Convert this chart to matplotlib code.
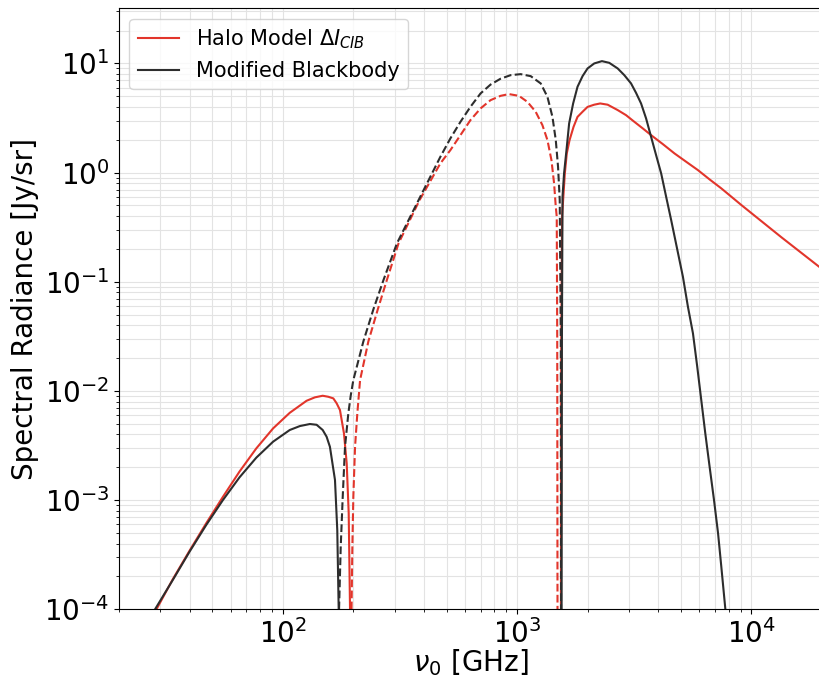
import matplotlib
matplotlib.use("Agg")
import matplotlib.pyplot as plt

# ---- data ----
# Halo model, low-frequency positive part
halo_pos1_nu = [28.9, 33.9, 40.0, 47.1, 55.5, 65.4, 77.1, 90.9, 107.1, 126.3, 137.1, 148, 156.3, 164.3, 169.8, 175.4, 182.4, 187.4, 191.1, 193.6]
halo_pos1_I = [1e-4, 1.88e-4, 3.44e-4, 6.13e-4, 1.07e-3, 1.83e-3, 2.98e-3, 4.54e-3, 6.31e-3, 8.13e-3, 8.74e-3, 9.04e-3, 8.85e-3, 8.55e-3, 7.70e-3, 6.68e-3, 4.09e-3, 2.17e-3, 7.57e-4, 1e-4]
# Halo model, negative part (|value|)
halo_neg_nu = [196.5, 198.1, 200.0, 203.4, 208.0, 213.7, 231.9, 254.4, 278.0, 311.8, 383.4, 470.3, 519, 573, 632, 698, 770, 850, 922, 1018, 1106, 1200, 1282, 1347, 1401, 1438, 1462, 1476, 1483, 1487]
halo_neg_I = [1e-4, 3.74e-4, 1.074e-3, 3.08e-3, 6.23e-3, 1.259e-2, 2.85e-2, 5.6e-2, 0.1037, 0.2247, 0.560, 1.214, 1.607, 2.205, 3.026, 3.87, 4.61, 5.05, 5.24, 5.05, 4.45, 3.61, 2.723, 1.985, 1.302, 0.796, 0.486, 0.394, 0.0292, 1e-4]
# Halo model, high-frequency positive part
halo_pos2_nu = [1538, 1543, 1556, 1598, 1629, 1674, 1741, 1810, 1902, 1998, 2133, 2262, 2434, 2686, 2916, 3164, 3437, 3730, 4186, 4694, 5268, 5911, 6629, 7437, 9063, 13444, 20000]
halo_pos2_I = [1e-4, 0.03, 0.4, 0.983, 1.499, 1.985, 2.627, 3.24, 3.61, 4.00, 4.19, 4.30, 4.19, 3.74, 3.36, 2.92, 2.541, 2.205, 1.824, 1.499, 1.256, 1.054, 0.866, 0.717, 0.504, 0.255, 0.131]

# Modified blackbody, low-frequency positive part
mbb_pos1_nu = [28.5, 33.9, 40.0, 47.1, 55.5, 65.4, 77.1, 90.9, 107.1, 118.3, 130.5, 139.4, 148, 153.8, 158.9, 167, 170.8, 173.2]
mbb_pos1_I = [1e-4, 1.85e-4, 3.37e-4, 5.91e-4, 1e-3, 1.62e-3, 2.45e-3, 3.43e-3, 4.39e-3, 4.77e-3, 4.98e-3, 4.90e-3, 4.39e-3, 3.81e-3, 3.08e-3, 1.53e-3, 5.32e-4, 1e-4]
# Modified blackbody, negative part (|value|)
mbb_neg_nu = [173.8, 176.7, 180.2, 184.3, 190.4, 195.0, 200.0, 220.8, 243.6, 268.9, 306.9, 379.7, 470.3, 519, 573, 632, 698, 770, 850, 938, 1035, 1143, 1261, 1347, 1415, 1462, 1495, 1520, 1536, 1540]
mbb_neg_I = [1e-4, 3.74e-4, 1.074e-3, 3.08e-3, 6.23e-3, 9.1e-3, 1.259e-2, 2.85e-2, 5.6e-2, 0.1037, 0.2247, 0.560, 1.395, 2.057, 2.919, 4.005, 5.31, 6.4, 7.25, 7.81, 7.98, 7.65, 6.56, 4.94, 3.24, 1.985, 1.130, 0.560, 0.0292, 1e-4]
# Modified blackbody, high-frequency positive part
mbb_pos2_nu = [1548, 1553, 1562, 1586, 1624, 1667, 1734, 1810, 1902, 1998, 2133, 2301, 2473, 2686, 2867, 3063, 3217, 3380, 3551, 3730, 3918, 4118, 4325, 4544, 5100, 5357, 5628, 5870, 6107, 6353, 6629, 6922, 7202, 7437, 7739]
mbb_pos2_I = [1e-4, 0.03, 0.6, 0.983, 1.607, 2.82, 4.30, 6.11, 7.65, 9.00, 10.0, 10.5, 10.13, 9.00, 7.81, 6.56, 5.38, 4.30, 3.135, 2.127, 1.446, 0.983, 0.600, 0.367, 0.111, 0.059, 0.0337, 0.01666, 8.25e-3, 4.09e-3, 2.02e-3, 1e-3, 4.97e-4, 2.45e-4, 1e-4]

labels = [r"Halo Model $\Delta I_{CIB}$", "Modified Blackbody"]
red = "#e2352b"
black = "#2d2d2d"

fig = plt.figure(figsize=(8.19, 6.79), dpi=100)
ax = fig.add_axes([119 / 819, 69.7 / 679, 703 / 819, 601 / 679])

ax.plot(halo_pos1_nu, halo_pos1_I, color=red, lw=1.5, label=labels[0])
ax.plot(halo_neg_nu, halo_neg_I, color=red, lw=1.5, ls="--")
ax.plot(halo_pos2_nu, halo_pos2_I, color=red, lw=1.5)
ax.plot(mbb_pos1_nu, mbb_pos1_I, color=black, lw=1.5, label=labels[1])
ax.plot(mbb_neg_nu, mbb_neg_I, color=black, lw=1.5, ls="--")
ax.plot(mbb_pos2_nu, mbb_pos2_I, color=black, lw=1.5)

ax.set_xscale("log")
ax.set_yscale("log")
ax.set_xlim(20, 2e4)
ax.set_ylim(1e-4, 32)
ax.grid(True, which="both", color="#e3e3e3", lw=0.8)
ax.set_axisbelow(True)
ax.tick_params(labelsize=20)
ax.set_xlabel(r"$\nu_0$ [GHz]", fontsize=20, labelpad=-1)
ax.set_ylabel("Spectral Radiance [Jy/sr]", fontsize=20, labelpad=4)
ax.legend(loc="upper left", fontsize=15)

fig.savefig("out.png", dpi=100)
